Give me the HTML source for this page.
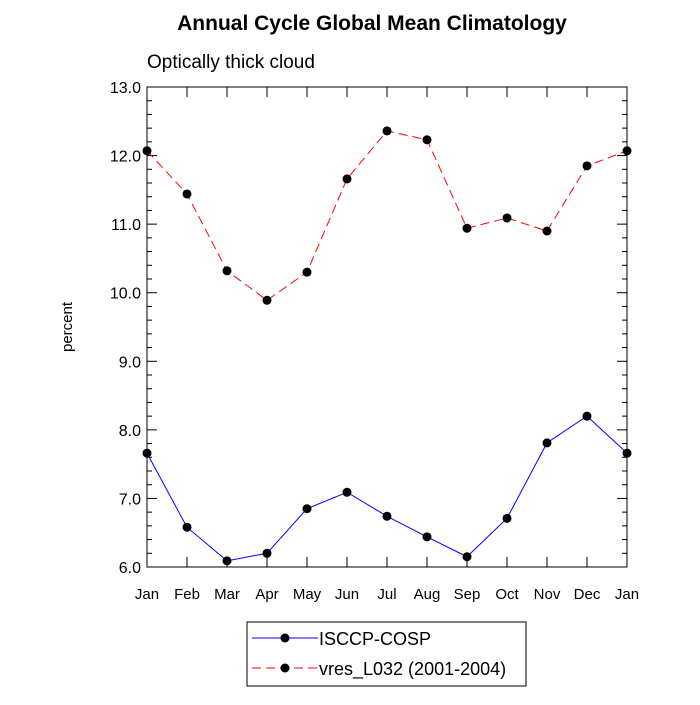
<!DOCTYPE html>
<html><head><meta charset="utf-8"><style>
body{margin:0;background:#fff;}
svg text{font-family:"Liberation Sans",sans-serif;}
</style></head><body>
<svg id="chart" width="700" height="700" xmlns="http://www.w3.org/2000/svg">
<text x="372" y="30" text-anchor="middle" font-size="21" font-weight="bold">Annual Cycle Global Mean Climatology</text>
<text x="147" y="68" font-size="19">Optically thick cloud</text>
<text transform="translate(72,327) rotate(-90)" text-anchor="middle" font-size="15">percent</text>
<g id="axes"></g>
<g id="series"></g>
<g>
<rect x="247" y="622" width="279" height="64" fill="#fff" stroke="#000" stroke-width="1"/>
<g>
<line x1="252" y1="638" x2="318" y2="638" stroke="#00f" stroke-width="1"/>
<circle cx="285" cy="638" r="4.5" fill="#000"/>
<text x="319" y="645" font-size="18">ISCCP-COSP</text></g>
<g>
<line x1="252" y1="668" x2="318" y2="668" stroke="#f00" stroke-width="1" stroke-dasharray="9,5"/>
<circle cx="285" cy="668" r="4.5" fill="#000"/>
<text x="319" y="675" font-size="18">vres_L032 (2001-2004)</text></g>
</g>
</svg>
<script>
const months=["Jan","Feb","Mar","Apr","May","Jun","Jul","Aug","Sep","Oct","Nov","Dec","Jan"];
const isccpValues=[7.66,6.58,6.09,6.20,6.85,7.09,6.74,6.44,6.15,6.71,7.81,8.20,7.66];
const vresValues=[12.07,11.44,10.32,9.89,10.30,11.66,12.36,12.23,10.94,11.09,10.90,11.85,12.07];
const yTicks=["6.0","7.0","8.0","9.0","10.0","11.0","12.0","13.0"];
const L=147,R=627,T=87,B=567,yMin=6,yMax=13;
const NS="http://www.w3.org/2000/svg";
function xs(i){return L+i*(R-L)/(months.length-1);}
function ys(v){return B-(v-yMin)/(yMax-yMin)*(B-T);}
function mk(tag,attrs,parent){const e=document.createElementNS(NS,tag);for(const k in attrs)e.setAttribute(k,attrs[k]);parent.appendChild(e);return e;}
const ax=document.getElementById('axes');
const frame=mk('rect',{x:L,y:T,width:R-L,height:B-T,fill:'none',stroke:'#000','stroke-width':1},ax);


yTicks.forEach(t=>{const v=parseFloat(t),y=ys(v);
mk('line',{x1:L,y1:y,x2:L+10,y2:y,stroke:'#000'},ax);
mk('line',{x1:R,y1:y,x2:R-10,y2:y,stroke:'#000'},ax);
const tx=mk('text',{x:L-6,y:y+6,'text-anchor':'end','font-size':16},ax);tx.textContent=t;


if(v<yMax){for(let k=1;k<5;k++){const ym=ys(v+k*0.2);
mk('line',{x1:L,y1:ym,x2:L+5,y2:ym,stroke:'#000'},ax);
mk('line',{x1:R,y1:ym,x2:R-5,y2:ym,stroke:'#000'},ax);}}
});
months.forEach((m,i)=>{const x=xs(i);
mk('line',{x1:x,y1:B,x2:x,y2:B-10,stroke:'#000'},ax);
mk('line',{x1:x,y1:T,x2:x,y2:T+10,stroke:'#000'},ax);
const tx=mk('text',{x:x,y:B+32,'text-anchor':'middle','font-size':15},ax);tx.textContent=m;


});
const sg=document.getElementById('series');
function drawSeries(vals,color,dash,name){
const g=mk('g',{},sg);


const pts=vals.map((v,i)=>xs(i)+','+ys(v)).join(' ');
const a={points:pts,fill:'none',stroke:color,'stroke-width':1};if(dash)a['stroke-dasharray']=dash;
mk('polyline',a,g);
vals.forEach((v,i)=>{const c=mk('circle',{cx:xs(i),cy:ys(v),r:4.5,fill:'#000'},g);

});
}
drawSeries(vresValues,'#f00','9,5','series-vres');
drawSeries(isccpValues,'#00f',null,'series-isccp');
</script>
</body></html>
